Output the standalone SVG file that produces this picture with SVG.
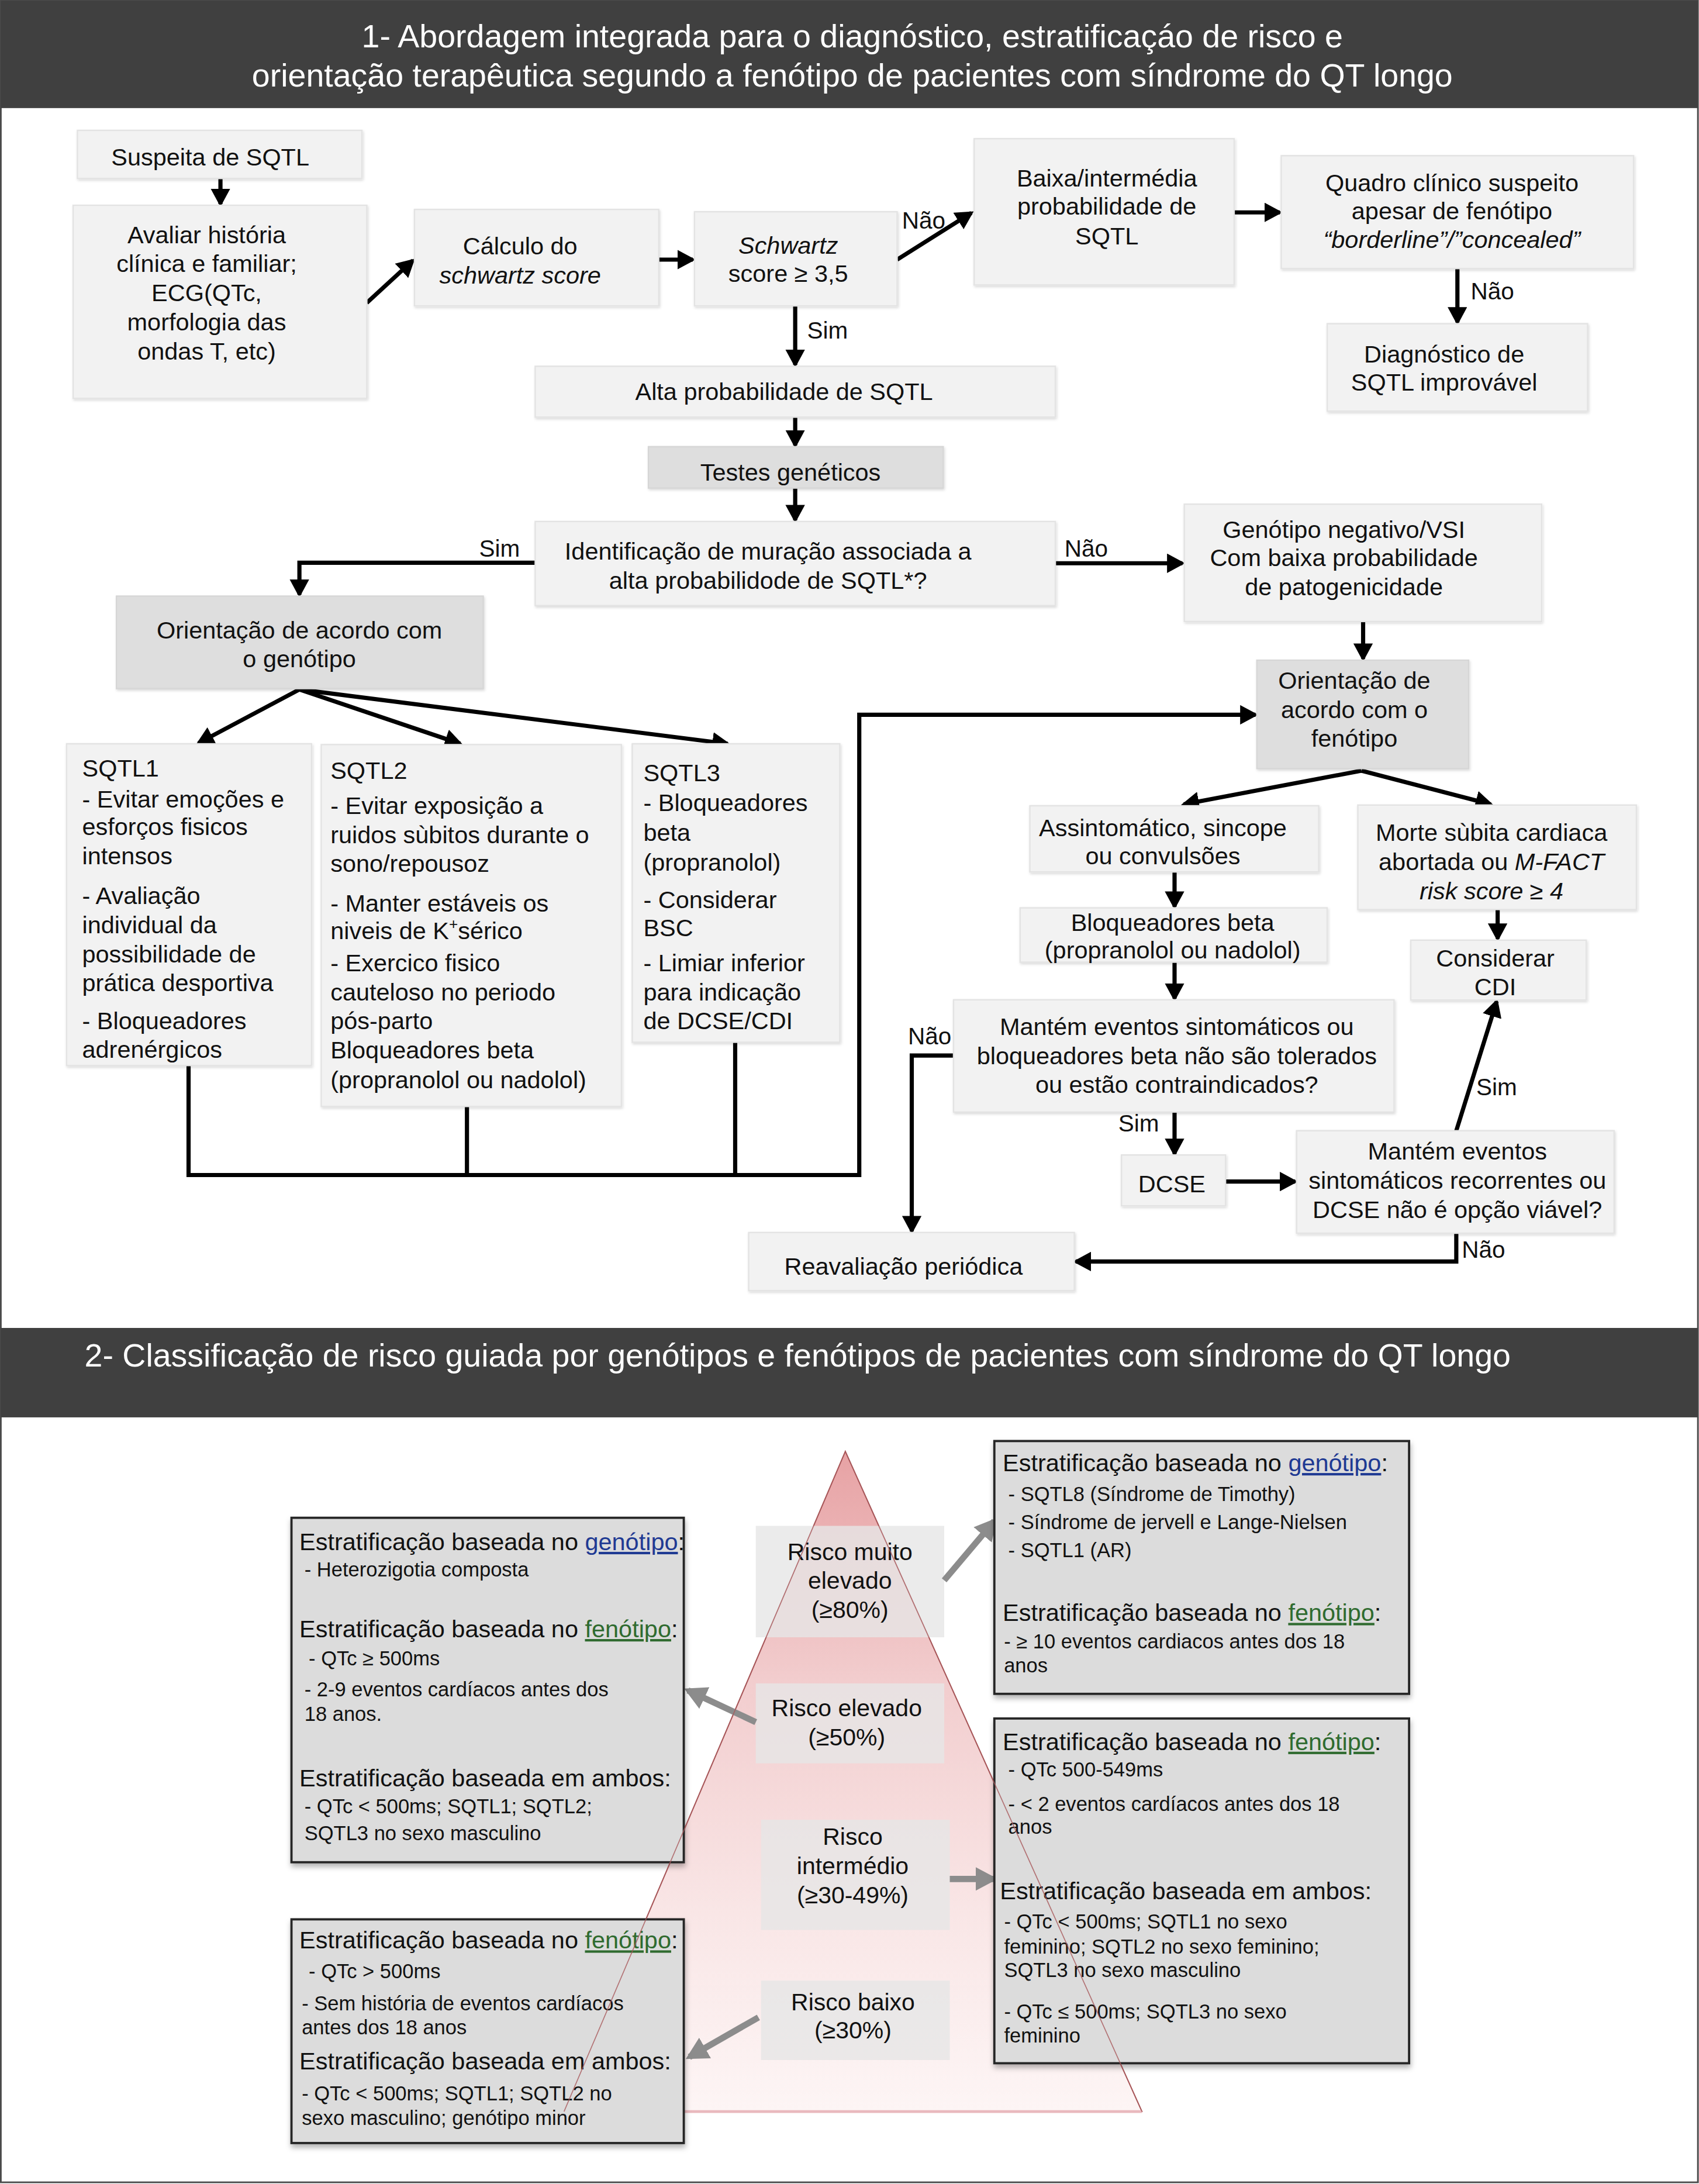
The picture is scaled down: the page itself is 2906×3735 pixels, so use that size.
<svg xmlns="http://www.w3.org/2000/svg" width="2906" height="3735" viewBox="0 0 2906 3735">
<defs>
<style>
.t{font-family:"Liberation Sans",Arial,Helvetica,sans-serif;font-size:17.4px;fill:#111}
.m{text-anchor:middle}
.it{font-style:italic}
.hd{font-family:"Liberation Sans",Arial,Helvetica,sans-serif;font-size:23.3px;fill:#fff}
.lb{font-family:"Liberation Sans",Arial,Helvetica,sans-serif;font-size:17px;fill:#111}
.sh{font-family:"Liberation Sans",Arial,Helvetica,sans-serif;font-size:17.4px;fill:#111}
.si{font-family:"Liberation Sans",Arial,Helvetica,sans-serif;font-size:14.5px;fill:#111}
.rk{font-family:"Liberation Sans",Arial,Helvetica,sans-serif;font-size:17.2px;fill:#111;text-anchor:middle}
.gen{fill:#1f3a93;text-decoration:underline}
.fen{fill:#2f6b2f;text-decoration:underline}
.box{fill:#f2f2f2;stroke:#e3e3e3;stroke-width:1}
.dbox{fill:#dedede;stroke:#d6d6d6;stroke-width:1}
.ibox{fill:#dcdcdc;stroke:#262626;stroke-width:1.6}
.rbox{fill:#e6e6e6;fill-opacity:0.8}
.ln{stroke:#000;stroke-width:3;fill:none}
.ga{stroke:#8c8c8c;stroke-width:4.5;fill:none}
</style>
<marker id="ah" markerUnits="userSpaceOnUse" markerWidth="13" markerHeight="14" viewBox="0 0 13 14" refX="11" refY="7" orient="auto">
<path d="M0,0 L13,7 L0,14 z" fill="#000"/>
</marker>
<marker id="gh" markerUnits="userSpaceOnUse" markerWidth="16" markerHeight="17" viewBox="0 0 16 17" refX="13" refY="8.5" orient="auto">
<path d="M0,0 L16,8.5 L0,17 z" fill="#8c8c8c"/>
</marker>
<filter id="sd" x="-5%" y="-5%" width="115%" height="125%">
<feDropShadow dx="0.6" dy="1" stdDeviation="0.8" flood-color="#000" flood-opacity="0.15"/>
</filter>
<filter id="sd2" x="-5%" y="-5%" width="115%" height="115%">
<feDropShadow dx="0.5" dy="2.5" stdDeviation="2" flood-color="#000" flood-opacity="0.3"/>
</filter>
<linearGradient id="pg" x1="0" y1="0" x2="0" y2="1">
<stop offset="0" stop-color="#e7a2a4"/>
<stop offset="0.35" stop-color="#f2cdce"/>
<stop offset="0.7" stop-color="#f9e6e6"/>
<stop offset="1" stop-color="#fdf5f5"/>
</linearGradient>
</defs>
<rect x="0" y="0" width="2906" height="3735" fill="#fff"/>
<g transform="scale(2.382)">
<rect x="0.6" y="0.6" width="1218.6" height="1566.2" fill="none" stroke="#4a4a4a" stroke-width="1.2"/>

<g id="header1">
<rect x="0.6" y="0.6" width="1218.6" height="77" fill="#404040"/>
<text class="hd m" x="612" y="34">1- Abordagem integrada para o diagnóstico, estratificaçáo de risco e</text>
<text class="hd m" x="612" y="62">orientação terapêutica segundo a fenótipo de pacientes com síndrome do QT longo</text>
</g>

<g id="connectors">
<line class="ln" x1="158.3" y1="128.5" x2="158.3" y2="146.5" marker-end="url(#ah)"/>
<line class="ln" x1="263.4" y1="217.4" x2="296.5" y2="187" marker-end="url(#ah)"/>
<line class="ln" x1="473" y1="186.4" x2="497.5" y2="186.4" marker-end="url(#ah)"/>
<line class="ln" x1="644.2" y1="186.4" x2="697.5" y2="152.8" marker-end="url(#ah)"/>
<line class="ln" x1="886.2" y1="152.5" x2="919" y2="152.5" marker-end="url(#ah)"/>
<line class="ln" x1="1046.5" y1="192.8" x2="1046.5" y2="231.5" marker-end="url(#ah)"/>
<line class="ln" x1="571" y1="219.6" x2="571" y2="262" marker-end="url(#ah)"/>
<line class="ln" x1="571" y1="299.5" x2="571" y2="319.8" marker-end="url(#ah)"/>
<line class="ln" x1="571" y1="350.4" x2="571" y2="373.5" marker-end="url(#ah)"/>
<polyline class="ln" points="384.3,404 215,404 215,427" marker-end="url(#ah)"/>
<line class="ln" x1="757.8" y1="404.4" x2="849" y2="404.4" marker-end="url(#ah)"/>
<line class="ln" x1="978.8" y1="446.2" x2="978.8" y2="473" marker-end="url(#ah)"/>
<line class="ln" x1="215" y1="495" x2="142.5" y2="533.5" marker-end="url(#ah)"/>
<line class="ln" x1="215" y1="495" x2="330.5" y2="534" marker-end="url(#ah)"/>
<line class="ln" x1="215" y1="495" x2="522.5" y2="534" marker-end="url(#ah)"/>
<polyline class="ln" points="135.4,765 135.4,843.6 617,843.6 617,513.2 901.5,513.2" marker-end="url(#ah)"/>
<line class="ln" x1="335.3" y1="794.4" x2="335.3" y2="843.6"/>
<line class="ln" x1="527.9" y1="748.3" x2="527.9" y2="843.6"/>
<line class="ln" x1="977.6" y1="553.3" x2="850" y2="577.5" marker-end="url(#ah)"/>
<line class="ln" x1="977.6" y1="553.3" x2="1070.5" y2="577.5" marker-end="url(#ah)"/>
<line class="ln" x1="843.4" y1="626" x2="843.4" y2="651" marker-end="url(#ah)"/>
<line class="ln" x1="1075.4" y1="653" x2="1075.4" y2="674" marker-end="url(#ah)"/>
<line class="ln" x1="843.4" y1="690.8" x2="843.4" y2="717" marker-end="url(#ah)"/>
<polyline class="ln" points="684.7,757.8 654.7,757.8 654.7,884" marker-end="url(#ah)"/>
<line class="ln" x1="843.4" y1="798.4" x2="843.4" y2="828.5" marker-end="url(#ah)"/>
<line class="ln" x1="880" y1="848.3" x2="930" y2="848.3" marker-end="url(#ah)"/>
<line class="ln" x1="1045.7" y1="811.8" x2="1074.7" y2="719" marker-end="url(#ah)"/>
<polyline class="ln" points="1045.7,885.4 1045.7,905.7 772.4,905.7" marker-end="url(#ah)"/>
<text class="lb" x="647.7" y="164">Não</text>
<text class="lb" x="1056" y="214.8">Não</text>
<text class="lb" x="579.6" y="243">Sim</text>
<text class="lb" x="344" y="399.7">Sim</text>
<text class="lb" x="764.4" y="399.7">Não</text>
<text class="lb" x="652" y="750">Não</text>
<text class="lb" x="803" y="812.3">Sim</text>
<text class="lb" x="1060" y="786.5">Sim</text>
<text class="lb" x="1049.6" y="903">Não</text>
</g>

<g id="n-suspeita">
<rect class="box" filter="url(#sd)" x="55.6" y="93.6" width="204.3" height="34.5"/>
<text class="t m" x="151" y="119">Suspeita de SQTL</text>
</g>
<g id="n-avaliar">
<rect class="box" filter="url(#sd)" x="52.5" y="147.4" width="210.9" height="138.6"/>
<text class="t m"><tspan x="148.4" y="174.6">Avaliar história</tspan><tspan x="148.4" y="195.4">clínica e familiar;</tspan><tspan x="148.4" y="216.3">ECG(QTc,</tspan><tspan x="148.4" y="237.3">morfologia das</tspan><tspan x="148.4" y="258">ondas T, etc)</tspan></text>
</g>
<g id="n-calculo">
<rect class="box" filter="url(#sd)" x="297.6" y="150.4" width="175.4" height="69.2"/>
<text class="t m"><tspan x="373.5" y="182.5">Cálculo do</tspan><tspan class="it" x="373.5" y="203.5">schwartz score</tspan></text>
</g>
<g id="n-schwartz">
<rect class="box" filter="url(#sd)" x="498.7" y="152" width="145.5" height="67.6"/>
<text class="t m"><tspan class="it" x="566" y="182">Schwartz</tspan><tspan x="566" y="202.5">score ≥ 3,5</tspan></text>
</g>
<g id="n-baixa">
<rect class="box" filter="url(#sd)" x="699.5" y="99.6" width="186.7" height="105"/>
<text class="t m"><tspan x="794.8" y="133.9">Baixa/intermédia</tspan><tspan x="794.8" y="154.2">probabilidade de</tspan><tspan x="794.8" y="175.6">SQTL</tspan></text>
</g>
<g id="n-quadro">
<rect class="box" filter="url(#sd)" x="920" y="111.8" width="253" height="81"/>
<text class="t m"><tspan x="1042.6" y="137.1">Quadro clínico suspeito</tspan><tspan x="1042.6" y="157.4">apesar de fenótipo</tspan><tspan class="it" x="1042.6" y="177.8">“borderline”/”concealed”</tspan></text>
</g>
<g id="n-diagnostico">
<rect class="box" filter="url(#sd)" x="953" y="232.4" width="187" height="62.8"/>
<text class="t m"><tspan x="1037" y="260.3">Diagnóstico de</tspan><tspan x="1037" y="280.6">SQTL improvável</tspan></text>
</g>
<g id="n-alta">
<rect class="box" filter="url(#sd)" x="384.3" y="263" width="373.5" height="36.5"/>
<text class="t m" x="563" y="287">Alta probabilidade de SQTL</text>
</g>
<g id="n-testes">
<rect class="dbox" filter="url(#sd)" x="465.6" y="320.7" width="211.7" height="29.7"/>
<text class="t m" x="567.6" y="345">Testes genéticos</text>
</g>
<g id="n-identificacao">
<rect class="box" filter="url(#sd)" x="384.3" y="374.4" width="373.5" height="60.4"/>
<text class="t m"><tspan x="551.5" y="401.8">Identificação de muração associada a</tspan><tspan x="551.5" y="422.6">alta probabilidode de SQTL*?</tspan></text>
</g>
<g id="n-genotipo-negativo">
<rect class="box" filter="url(#sd)" x="850.4" y="362" width="256.6" height="84.2"/>
<text class="t m"><tspan x="965" y="386.2">Genótipo negativo/VSI</tspan><tspan x="965" y="406.5">Com baixa probabilidade</tspan><tspan x="965" y="427.5">de patogenicidade</tspan></text>
</g>
<g id="n-orient-genotipo">
<rect class="dbox" filter="url(#sd)" x="83.6" y="428" width="263.4" height="66.4"/>
<text class="t m"><tspan x="215" y="458.4">Orientação de acordo com</tspan><tspan x="215" y="479">o genótipo</tspan></text>
</g>
<g id="n-orient-fenotipo">
<rect class="dbox" filter="url(#sd)" x="902.5" y="474" width="152.1" height="77.8"/>
<text class="t m"><tspan x="972.5" y="494.4">Orientação de</tspan><tspan x="972.5" y="515.4">acordo com o</tspan><tspan x="972.5" y="536.1">fenótipo</tspan></text>
</g>
<g id="n-sqtl1">
<rect class="box" filter="url(#sd)" x="47.8" y="534" width="175.9" height="231"/>
<text class="t"><tspan x="59" y="557.5">SQTL1</tspan><tspan x="59" y="579.6">- Evitar emoções e</tspan><tspan x="59" y="599.7">esforços fisicos</tspan><tspan x="59" y="620.7">intensos</tspan><tspan x="59" y="649">- Avaliação</tspan><tspan x="59" y="670">individual da</tspan><tspan x="59" y="690.9">possibilidade de</tspan><tspan x="59" y="711.7">prática desportiva</tspan><tspan x="59" y="738.7">- Bloqueadores</tspan><tspan x="59" y="759.6">adrenérgicos</tspan></text>
</g>
<g id="n-sqtl2">
<rect class="box" filter="url(#sd)" x="230.7" y="534.6" width="215.5" height="259.8"/>
<text class="t"><tspan x="237.3" y="559.3">SQTL2</tspan><tspan x="237.3" y="584.3">- Evitar exposição a</tspan><tspan x="237.3" y="605.3">ruidos sùbitos durante o</tspan><tspan x="237.3" y="626.1">sono/repousoz</tspan><tspan x="237.3" y="654.6">- Manter estáveis os</tspan><tspan x="237.3" y="674.3">niveis de K</tspan><tspan dy="-7" font-size="11">+</tspan><tspan dy="7">sérico</tspan><tspan x="237.3" y="697.5">- Exercico fisico</tspan><tspan x="237.3" y="718.3">cauteloso no periodo</tspan><tspan x="237.3" y="738.7">pós-parto</tspan><tspan x="237.3" y="760">Bloqueadores beta</tspan><tspan x="237.3" y="781.3">(propranolol ou nadolol)</tspan></text>
</g>
<g id="n-sqtl3">
<rect class="box" filter="url(#sd)" x="454" y="534" width="149" height="214.3"/>
<text class="t"><tspan x="462" y="560.8">SQTL3</tspan><tspan x="462" y="582.2">- Bloqueadores</tspan><tspan x="462" y="603.6">beta</tspan><tspan x="462" y="625">(propranolol)</tspan><tspan x="462" y="651.8">- Considerar</tspan><tspan x="462" y="672">BSC</tspan><tspan x="462" y="697.5">- Limiar inferior</tspan><tspan x="462" y="718.3">para indicação</tspan><tspan x="462" y="738.7">de DCSE/CDI</tspan></text>
</g>
<g id="n-assintomatico">
<rect class="box" filter="url(#sd)" x="739.5" y="578.5" width="207.4" height="47.5"/>
<text class="t m"><tspan x="835" y="600.4">Assintomático, sincope</tspan><tspan x="835" y="620.7">ou convulsões</tspan></text>
</g>
<g id="n-morte">
<rect class="box" filter="url(#sd)" x="975" y="578" width="200" height="75"/>
<text class="t m"><tspan x="1071" y="603.7">Morte sùbita cardiaca</tspan><tspan x="1071" y="624.7">abortada ou <tspan class="it">M-FACT</tspan></tspan><tspan class="it" x="1071" y="645.7">risk score ≥ 4</tspan></text>
</g>
<g id="n-bloqueadores">
<rect class="box" filter="url(#sd)" x="732.5" y="651.8" width="220.5" height="39"/>
<text class="t m"><tspan x="842" y="668.5">Bloqueadores beta</tspan><tspan x="842" y="688.2">(propranolol ou nadolol)</tspan></text>
</g>
<g id="n-cdi">
<rect class="box" filter="url(#sd)" x="1013" y="675" width="126" height="43"/>
<text class="t m"><tspan x="1073.7" y="694">Considerar</tspan><tspan x="1073.7" y="714.5">CDI</tspan></text>
</g>
<g id="n-mantem">
<rect class="box" filter="url(#sd)" x="684.7" y="717.8" width="316.3" height="80.6"/>
<text class="t m"><tspan x="845" y="743">Mantém eventos sintomáticos ou</tspan><tspan x="845" y="763.9">bloqueadores beta não são tolerados</tspan><tspan x="845" y="784.8">ou estão contraindicados?</tspan></text>
</g>
<g id="n-dcse">
<rect class="box" filter="url(#sd)" x="805.3" y="829.2" width="74.7" height="36.5"/>
<text class="t m" x="841.5" y="856">DCSE</text>
</g>
<g id="n-mantem2">
<rect class="box" filter="url(#sd)" x="931" y="811.8" width="228" height="73.6"/>
<text class="t m"><tspan x="1046.5" y="832.7">Mantém eventos</tspan><tspan x="1046.5" y="853.5">sintomáticos recorrentes ou</tspan><tspan x="1046.5" y="874.4">DCSE não é opção viável?</tspan></text>
</g>
<g id="n-reavaliacao">
<rect class="box" filter="url(#sd)" x="537.6" y="884.9" width="233.8" height="41.7"/>
<text class="t m" x="648.8" y="915.3">Reavaliação periódica</text>
</g>

<g id="header2">
<rect x="0.6" y="953.4" width="1218.6" height="64.2" fill="#404040"/>
<text class="hd" x="60.7" y="981.2">2- Classificação de risco guiada por genótipos e fenótipos de pacientes com síndrome do QT longo</text>
</g>

<g id="pyramid">
<polygon points="607,1042 820,1516 405,1516" fill="url(#pg)" stroke="#a8585a" stroke-width="0.8"/>
<line x1="405" y1="1516" x2="820" y2="1516" stroke="#e9b9be" stroke-width="2"/>
</g>

<g id="risk-muito">
<rect class="rbox" x="542.7" y="1095.5" width="135.3" height="80"/>
<text class="rk"><tspan x="610.3" y="1119.9">Risco muito</tspan><tspan x="610.3" y="1140.7">elevado</tspan><tspan x="610.3" y="1161.6">(≥80%)</tspan></text>
</g>
<g id="risk-elevado">
<rect class="rbox" x="542.7" y="1208.6" width="135.3" height="57.4"/>
<text class="rk"><tspan x="608" y="1232">Risco elevado</tspan><tspan x="608" y="1253">(≥50%)</tspan></text>
</g>
<g id="risk-intermedio">
<rect class="rbox" x="546.5" y="1306.5" width="135.5" height="79.1"/>
<text class="rk"><tspan x="612.3" y="1324.4">Risco</tspan><tspan x="612.3" y="1345.5">intermédio</tspan><tspan x="612.3" y="1366.6">(≥30-49%)</tspan></text>
</g>
<g id="risk-baixo">
<rect class="rbox" x="546.5" y="1422" width="135.5" height="57"/>
<text class="rk"><tspan x="612.5" y="1443.4">Risco baixo</tspan><tspan x="612.5" y="1463.5">(≥30%)</tspan></text>
</g>

<g id="risk-connectors">
<line class="ga" x1="678" y1="1134.6" x2="714" y2="1092" marker-end="url(#gh)"/>
<line class="ga" x1="542.7" y1="1236.4" x2="494" y2="1213.6" marker-end="url(#gh)"/>
<line class="ga" x1="682" y1="1349" x2="713.5" y2="1349" marker-end="url(#gh)"/>
<line class="ga" x1="544.6" y1="1448.4" x2="495" y2="1476.8" marker-end="url(#gh)"/>
</g>

<g id="info-left1">
<rect class="ibox" filter="url(#sd2)" x="209.3" y="1089.7" width="281.7" height="247.3"/>
<text class="sh" x="215" y="1112.9">Estratificação baseada no <tspan class="gen">genótipo</tspan>:</text>
<text class="si" x="218.6" y="1132">- Heterozigotia composta</text>
<text class="sh" x="215" y="1175.5">Estratificação baseada no <tspan class="fen">fenótipo</tspan>:</text>
<text class="si" x="221.7" y="1195.5">- QTc ≥ 500ms</text>
<text class="si"><tspan x="218.6" y="1218">- 2-9 eventos cardíacos antes dos</tspan><tspan x="218.6" y="1235.6">18 anos.</tspan></text>
<text class="sh" x="215" y="1282.5">Estratificação baseada em ambos:</text>
<text class="si"><tspan x="218.6" y="1302">- QTc &lt; 500ms; SQTL1; SQTL2;</tspan><tspan x="218.6" y="1321">SQTL3 no sexo masculino</tspan></text>
</g>
<g id="info-left2">
<rect class="ibox" filter="url(#sd2)" x="209.3" y="1378" width="281.7" height="160.6"/>
<text class="sh" x="215" y="1399">Estratificação baseada no <tspan class="fen">fenótipo</tspan>:</text>
<text class="si" x="221.7" y="1420.4">- QTc &gt; 500ms</text>
<text class="si"><tspan x="216.7" y="1443.4">- Sem história de eventos cardíacos</tspan><tspan x="216.7" y="1460.4">antes dos 18 anos</tspan></text>
<text class="sh" x="215" y="1485.9">Estratificação baseada em ambos:</text>
<text class="si"><tspan x="216.7" y="1508">- QTc &lt; 500ms; SQTL1; SQTL2 no</tspan><tspan x="216.7" y="1525.8">sexo masculino; genótipo minor</tspan></text>
</g>
<g id="info-right1">
<rect class="ibox" filter="url(#sd2)" x="714" y="1034.6" width="297.8" height="181.5"/>
<text class="sh" x="720" y="1056.3">Estratificação baseada no <tspan class="gen">genótipo</tspan>:</text>
<text class="si"><tspan x="724" y="1077.6">- SQTL8 (Síndrome de Timothy)</tspan><tspan x="724" y="1098">- Síndrome de jervell e Lange-Nielsen</tspan><tspan x="724" y="1118">- SQTL1 (AR)</tspan></text>
<text class="sh" x="720" y="1163.9">Estratificação baseada no <tspan class="fen">fenótipo</tspan>:</text>
<text class="si"><tspan x="720.9" y="1183.4">- ≥ 10 eventos cardiacos antes dos 18</tspan><tspan x="720.9" y="1200.8">anos</tspan></text>
</g>
<g id="info-right2">
<rect class="ibox" filter="url(#sd2)" x="714" y="1233.8" width="297.8" height="247.5"/>
<text class="sh" x="720" y="1256.4">Estratificação baseada no <tspan class="fen">fenótipo</tspan>:</text>
<text class="si"><tspan x="724" y="1275.6">- QTc 500-549ms</tspan><tspan x="724" y="1300">- &lt; 2 eventos cardíacos antes dos 18</tspan><tspan x="724" y="1316.7">anos</tspan></text>
<text class="sh" x="718" y="1363.5">Estratificação baseada em ambos:</text>
<text class="si"><tspan x="721" y="1384.7">- QTc &lt; 500ms; SQTL1 no sexo</tspan><tspan x="721" y="1402.6">feminino; SQTL2 no sexo feminino;</tspan><tspan x="721" y="1419.6">SQTL3 no sexo masculino</tspan><tspan x="721" y="1449.3">- QTc ≤ 500ms; SQTL3 no sexo</tspan><tspan x="721" y="1466.3">feminino</tspan></text>
</g>

<g id="pyramid-edges">
<polyline points="405,1516 607,1042 820,1516" fill="none" stroke="#a8585a" stroke-width="0.7" stroke-opacity="0.8"/>
</g>
</g>
</svg>
